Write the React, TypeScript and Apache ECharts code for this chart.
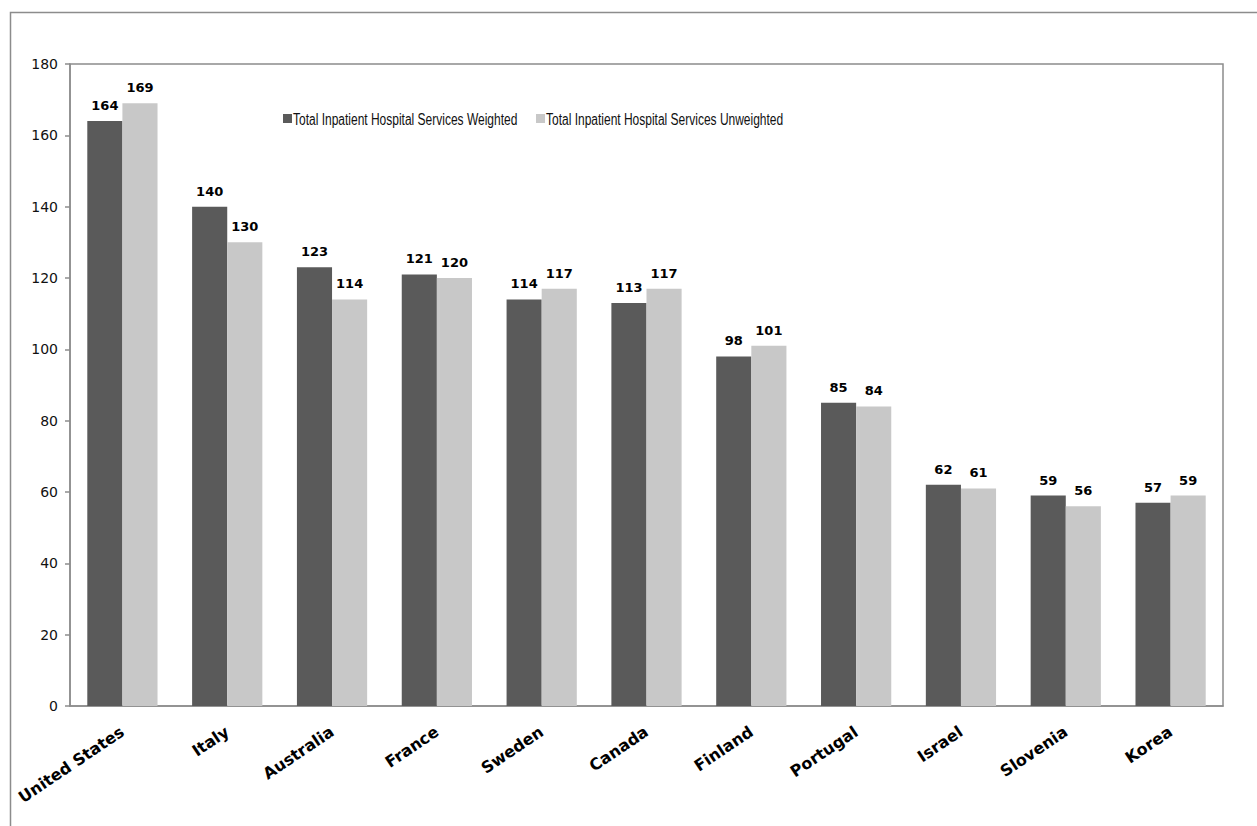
import React, { useEffect, useRef } from "react";
import * as echarts from "echarts";

const countries = [
  "United States", "Italy", "Australia", "France", "Sweden", "Canada",
  "Finland", "Portugal", "Israel", "Slovenia", "Korea",
];
const weighted = [164, 140, 123, 121, 114, 113, 98, 85, 62, 59, 57];
const unweighted = [169, 130, 114, 120, 117, 117, 101, 84, 61, 56, 59];
const seriesNames = [
  "Total Inpatient Hospital Services Weighted",
  "Total Inpatient Hospital Services Unweighted",
];

const DARK = "#5a5a5a";
const LIGHT = "#c8c8c8";
const FRAME = "#8c8c8c";
const seriesColors = [DARK, LIGHT];

// Legend entries: left edge of each swatch, drawn with a condensed text face
const legendX = [283, 536];
const legendY = 114;

export default function App() {
  const ref = useRef<HTMLDivElement>(null);

  useEffect(() => {
    if (!ref.current) return;
    const chart = echarts.init(ref.current, undefined, { renderer: "svg" });
    const valueLabel = {
      show: true,
      position: "top" as const,
      distance: 9,
      color: "#000",
      fontFamily: "DejaVu Sans, sans-serif",
      fontWeight: "bold" as const,
      fontSize: 13,
    };

    const legendItems = seriesNames.map((name, i) => ({
      type: "group",
      x: legendX[i],
      y: legendY,
      silent: true,
      children: [
        {
          type: "rect",
          shape: { x: 0, y: 0, width: 9, height: 9 },
          style: { fill: seriesColors[i] },
        },
        {
          type: "text",
          x: 10,
          y: 5,
          scaleX: 0.75,
          style: {
            text: name,
            fill: "#111",
            font: "16px 'Liberation Sans', Arial, sans-serif",
            verticalAlign: "middle",
            align: "left",
          },
        },
      ],
    }));

    chart.setOption({
      animation: false,
      backgroundColor: "#fff",
      graphic: [
        {
          type: "rect",
          shape: { x: 10.5, y: 12.5, width: 1260, height: 830 },
          style: { fill: "none", stroke: FRAME, lineWidth: 1.5 },
          silent: true,
        },
        ...legendItems,
      ],
      grid: {
        left: 70,
        top: 64,
        right: 34,
        bottom: 120,
        show: true,
        borderColor: FRAME,
        borderWidth: 1.5,
      },
      xAxis: {
        type: "category",
        data: countries,
        axisLine: { show: true, lineStyle: { color: FRAME, width: 1.5 } },
        axisTick: { show: false },
        axisLabel: {
          rotate: 34,
          interval: 0,
          margin: 24,
          color: "#000",
          fontFamily: "DejaVu Sans, sans-serif",
          fontWeight: "bold",
          fontSize: 16,
        },
      },
      yAxis: {
        type: "value",
        min: 0,
        max: 180,
        interval: 20,
        splitLine: { show: false },
        axisLine: { show: true, lineStyle: { color: FRAME, width: 1.5 } },
        axisTick: { show: true, length: 5, lineStyle: { color: FRAME, width: 1.5 } },
        axisLabel: {
          margin: 12,
          color: "#111",
          fontFamily: "DejaVu Sans, sans-serif",
          fontSize: 14,
        },
      },
      series: [
        {
          name: seriesNames[0],
          type: "bar",
          data: weighted,
          barGap: "0%",
          barCategoryGap: "33%",
          itemStyle: { color: DARK },
          label: valueLabel,
        },
        {
          name: seriesNames[1],
          type: "bar",
          data: unweighted,
          itemStyle: { color: LIGHT },
          label: valueLabel,
        },
      ],
    });
    return () => chart.dispose();
  }, []);

  return (
    <div
      ref={ref}
      style={{ position: "fixed", left: 0, top: 0, width: 1257, height: 826 }}
    />
  );
}
